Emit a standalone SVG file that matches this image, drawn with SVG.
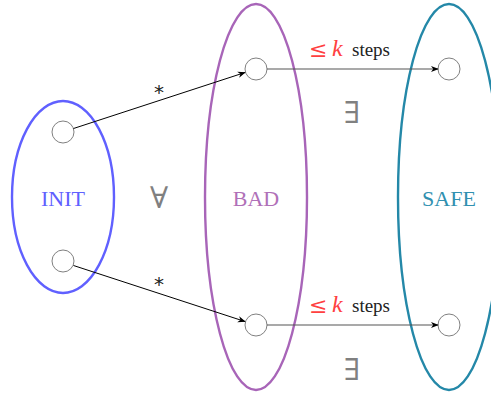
<svg xmlns="http://www.w3.org/2000/svg" width="491" height="394" viewBox="0 0 491 394">
<style>
.set{fill:none;stroke-width:2.4}
.st{fill:#fff;stroke:#808080;stroke-width:1}
.lbl{font-family:"Liberation Serif",serif;font-size:22px;text-anchor:middle;dominant-baseline:central}
.q{font-family:"DejaVu Serif","Liberation Serif",serif;font-size:30px;fill:#808080;text-anchor:middle;dominant-baseline:central;font-weight:300}
.conn{stroke:#000;stroke-width:1;fill:none;marker-end:url(#arr)}
.hconn{stroke:#555;stroke-width:1.2;fill:none;marker-end:url(#arr)}
.star{font-family:"DejaVu Sans",sans-serif;font-size:20px;fill:#222;text-anchor:middle}
.le{font-family:"DejaVu Serif",serif;font-size:22px;fill:#ff4040}
.k{font-family:"Liberation Serif",serif;font-size:24px;font-style:italic;fill:#ff4040}
.steps{font-family:"Liberation Serif",serif;font-size:19px;fill:#222}
</style>
<defs>
<marker id="arr" viewBox="0 0 10 10" refX="9" refY="5" markerWidth="8" markerHeight="8" markerUnits="userSpaceOnUse" orient="auto">
<path d="M0,1 L10,5 L0,9 L3,5 Z" fill="#000"/>
</marker>
</defs>
<g id="init">
<ellipse class="set" cx="63" cy="197" rx="51" ry="96" stroke="#6060ff"/>
<text class="lbl" x="63" y="198" fill="#6060ff">INIT</text>
</g>
<g id="bad">
<ellipse class="set" cx="256" cy="197" rx="51" ry="193" stroke="#a865b8"/>
<text class="lbl" x="256" y="198" fill="#b070b8">BAD</text>
</g>
<g id="safe">
<ellipse class="set" cx="449" cy="197" rx="51" ry="193" stroke="#2488a8"/>
<text class="lbl" x="449" y="198" fill="#3090b0">SAFE</text>
</g>
<g id="i1"><circle class="st" cx="63" cy="132" r="11"/></g>
<g id="i2"><circle class="st" cx="63" cy="261" r="11"/></g>
<g id="b1"><circle class="st" cx="256" cy="69" r="11"/></g>
<g id="b2"><circle class="st" cx="256" cy="325" r="11"/></g>
<g id="s1"><circle class="st" cx="449" cy="69" r="11"/></g>
<g id="s2"><circle class="st" cx="449" cy="325" r="11"/></g>
<g id="connectors">
<line class="conn" x1="73.5" y1="128.5" x2="245" y2="72.5"/>
<line class="conn" x1="73.5" y1="265.5" x2="245" y2="321.5"/>
<line class="hconn" x1="267" y1="69" x2="438" y2="69"/>
<line class="hconn" x1="267" y1="325" x2="438" y2="325"/>
<text class="star" x="159" y="99">*</text>
<text class="star" x="159" y="291">*</text>
<text class="le" x="309" y="57">≤</text><text class="k" x="332" y="56">k</text><text class="steps" x="352" y="56">steps</text>
<text class="le" x="309" y="313">≤</text><text class="k" x="332" y="312">k</text><text class="steps" x="352" y="312">steps</text>
</g>
<text class="q" x="159" y="197">∀</text>
<text class="q" x="352" y="112">∃</text>
<text class="q" x="352" y="369">∃</text>
</svg>
